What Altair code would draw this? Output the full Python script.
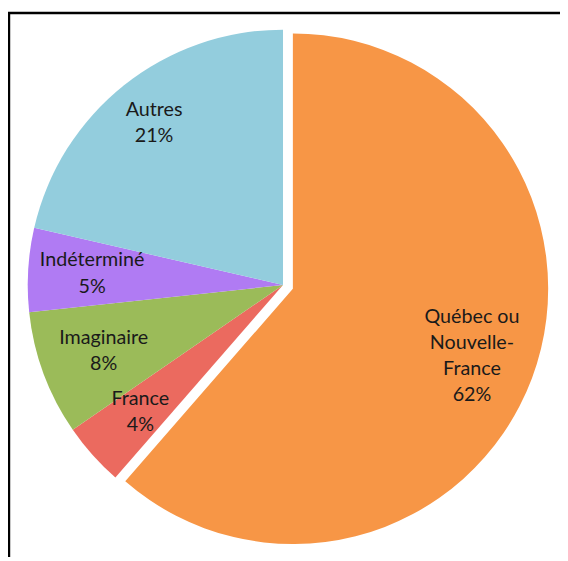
import altair as alt
import pandas as pd

categories = ["Québec ou Nouvelle-France", "France", "Imaginaire", "Indéterminé", "Autres"]
display_names = ["Québec ou\nNouvelle-\nFrance", "France", "Imaginaire", "Indéterminé", "Autres"]
values = [61.4, 4.0, 7.9, 5.3, 21.4]
shown_pct = [62, 4, 8, 5, 21]
colors = ["#F79646", "#EB6A5F", "#9BBB59", "#B07BF3", "#93CDDD"]

df = pd.DataFrame({
    "category": categories,
    "label": [f"{n}\n{v}%" for n, v in zip(display_names, shown_pct)],
    "value": values,
    "order": list(range(len(categories))),
})

W, H = 560, 553
CX, CY = 279, 277
R = 259
LH = 26.5
DX, DY = 10, 3.8

base = alt.Chart(df).transform_joinaggregate(
    total="sum(value)"
).transform_window(
    cum="sum(value)", sort=[alt.SortField("order")], frame=[None, 0]
).transform_calculate(
    start="(datum.cum - datum.value) / datum.total * 2 * PI",
    end="datum.cum / datum.total * 2 * PI",
    mid="(datum.cum - datum.value / 2) / datum.total * 2 * PI",
    lr="datum.category == 'Autres' ? 210 : 194",
)

color = alt.Color("category:N", scale=alt.Scale(domain=categories, range=colors), legend=None)

others = base.transform_filter(alt.datum.order > 0).mark_arc(radius=R, stroke=None).encode(
    theta=alt.Theta("start:Q", scale=None),
    theta2="end:Q",
    color=color,
    x=alt.value(CX), y=alt.value(CY),
)

main = base.transform_filter(alt.datum.order == 0).mark_arc(
    radius=R, stroke=None, xOffset=DX, yOffset=DY
).encode(
    theta=alt.Theta("start:Q", scale=None),
    theta2="end:Q",
    color=color,
    x=alt.value(CX), y=alt.value(CY),
)

text_props = dict(font="Lato", fontSize=20, lineBreak="\n", lineHeight=LH,
                  align="center", baseline="middle", color="#1a1a1a")

others_text = base.transform_filter(alt.datum.order > 0).mark_text(
    yOffset=-LH / 2, **text_props
).encode(
    theta=alt.Theta("mid:Q", scale=None),
    radius=alt.Radius("lr:Q", scale=None),
    text="label:N",
    x=alt.value(CX), y=alt.value(CY),
)

main_text = base.transform_filter(alt.datum.order == 0).mark_text(
    xOffset=DX, yOffset=DY - 1.5 * LH, **text_props
).encode(
    theta=alt.Theta("mid:Q", scale=None),
    radius=alt.value(194),
    text="label:N",
    x=alt.value(CX), y=alt.value(CY),
)

left = alt.Chart(df.head(1)).mark_rule(color="black", strokeWidth=2.5).encode(
    x=alt.value(1), y=alt.value(0), y2=alt.value(H))
top = alt.Chart(df.head(1)).mark_rule(color="black", strokeWidth=2.5).encode(
    x=alt.value(0), x2=alt.value(W), y=alt.value(1))

chart = alt.layer(others, main, others_text, main_text, left, top).properties(
    width=W, height=H, autosize=alt.AutoSizeParams(type="none"), padding=0,
    background="white",
).configure_view(stroke=None)

chart.save("out.html", embed_options={"renderer": "svg", "actions": False})
